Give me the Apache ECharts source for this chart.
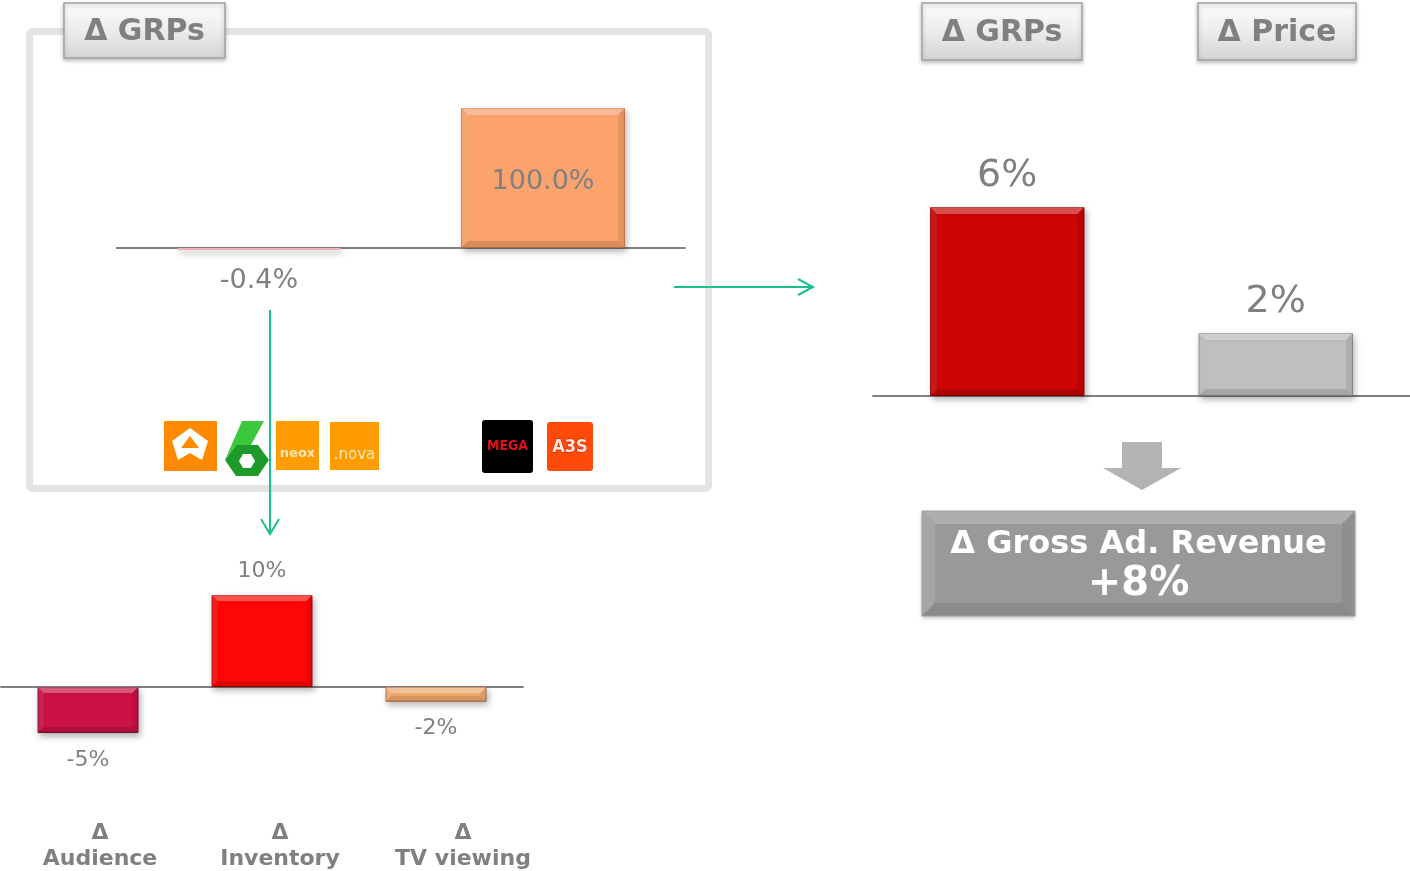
<!DOCTYPE html>
<html>
<head>
<meta charset="utf-8">
<script src="https://cdn.jsdelivr.net/npm/echarts@6/dist/echarts.min.js"></script>
<style>
html,body{margin:0;padding:0;background:#fff;}
#chart{width:1410px;height:871px;}
</style>
</head>
<body>
<div id="chart"></div>
<script>
// ---------- DATA ----------
const grpsCategories = ['Existing channels', 'New channels'];
const grpsValues = [-0.4, 100.0];
const grpsTitle = 'Δ GRPs';

const driverCategories = ['Δ\nAudience', 'Δ\nInventory', 'Δ\nTV viewing'];
const driverValues = [-5, 10, -1.6];

const summaryCategories = ['Δ GRPs', 'Δ Price'];
const summaryValues = [6, 2];

const revenueTitle = 'Δ Gross Ad. Revenue';
const revenueValue = '+8%';

// ---------- STYLE ----------
const FONT = 'DejaVu Sans';
const GREY = '#808080';
const GREEN = '#19c08e';
const grpsColors = [
  {fill: '#f7c4c4', border: '#f2b0b0'},
  {fill: '#fca26c', border: '#c9784c'}
];
const driverColors = [
  {fill: '#cc1144', border: '#7a0a28'},
  {fill: '#ff0606', border: '#b00000'},
  {fill: '#f6ad72', border: '#b8683a'}
];
const summaryColors = [
  {fill: '#cc0505', border: '#8a0000'},
  {fill: '#bfbfbf', border: '#8a8a8a'}
];

function items(values, colors) {
  return values.map((v, i) => ({
    value: v,
    itemStyle: {
      color: colors[i].fill,
      borderColor: colors[i].border,
      borderWidth: 1,
      shadowBlur: 6,
      shadowColor: 'rgba(0,0,0,0.28)',
      shadowOffsetX: 2,
      shadowOffsetY: 3
    }
  }));
}

function bevel(ratio, depth) {
  return function (params, api) {
    const idx = api.value(0), v = api.value(1);
    const p0 = api.coord([idx, 0]), p1 = api.coord([idx, v]);
    const w = api.size([1, 0])[0] * ratio;
    const x0 = p0[0] - w / 2, x1 = x0 + w;
    const yT = Math.min(p0[1], p1[1]), yB = Math.max(p0[1], p1[1]);
    const h = yB - yT;
    if (h < 4) return null;
    const d = Math.min(depth, h / 2.5, w / 4);
    return {
      type: 'group',
      silent: true,
      children: [
        {type: 'polygon', shape: {points: [[x0, yT], [x1, yT], [x1 - d, yT + d], [x0 + d, yT + d]]}, style: {fill: 'rgba(255,255,255,0.30)'}},
        {type: 'polygon', shape: {points: [[x0, yB], [x1, yB], [x1 - d, yB - d], [x0 + d, yB - d]]}, style: {fill: 'rgba(0,0,0,0.12)'}},
        {type: 'polygon', shape: {points: [[x0, yT], [x0 + d, yT + d], [x0 + d, yB - d], [x0, yB]]}, style: {fill: 'rgba(255,255,255,0.08)'}},
        {type: 'polygon', shape: {points: [[x1, yT], [x1 - d, yT + d], [x1 - d, yB - d], [x1, yB]]}, style: {fill: 'rgba(0,0,0,0.07)'}}
      ]
    };
  };
}

function xAx(gi, cats) {
  return {
    type: 'category', gridIndex: gi, data: cats,
    axisLine: {show: true, onZero: true, lineStyle: {color: GREY, width: 2}},
    axisTick: {show: false}, axisLabel: {show: false}, splitLine: {show: false}
  };
}
function yAx(gi, min, max) {
  return {type: 'value', gridIndex: gi, min: min, max: max, show: false, splitLine: {show: false}};
}

// header box with light bevel
function headerBox(x, y, w, h, text) {
  return {
    type: 'group', x: x, y: y, z: 20,
    children: [
      {type: 'rect', shape: {x: 0, y: 0, width: w, height: h},
        style: {fill: {type: 'linear', x: 0, y: 0, x2: 0, y2: 1, colorStops: [{offset: 0, color: '#fdfdfd'}, {offset: 0.5, color: '#ececec'}, {offset: 1, color: '#d4d4d4'}]},
          stroke: '#a3a3a3', lineWidth: 1.5, shadowBlur: 4, shadowColor: 'rgba(0,0,0,0.25)', shadowOffsetY: 2}},
      {type: 'text', style: {text: text, x: w / 2, y: h / 2 + 2, align: 'center', verticalAlign: 'middle',
        font: 'bold 30px "' + FONT + '"', fill: GREY}}
    ]
  };
}

function logos() {
  const g = [];
  // Antena 3
  g.push({type: 'rect', shape: {x: 164, y: 421, width: 53, height: 50}, style: {fill: '#ff8a00'}});
  g.push({type: 'polygon', shape: {points: [[190, 428], [208, 441], [202, 460], [190, 453], [178, 460], [172, 441]]}, style: {fill: '#ffffff'}});
  g.push({type: 'polygon', shape: {points: [[190, 436], [199, 448], [181, 448]]}, style: {fill: '#ff8a00'}});
  // laSexta
  g.push({type: 'polygon', shape: {points: [[236, 445], [258, 445], [269, 460], [258, 476], [236, 476], [225, 460]]}, style: {fill: '#1e9a2a'}});
  g.push({type: 'polygon', shape: {points: [[242, 421], [264, 421], [251, 445], [236, 445], [225, 460]]}, style: {fill: '#3cc83c'}});
  g.push({type: 'polygon', shape: {points: [[243, 454], [251, 454], [255, 461], [251, 468], [243, 468], [239, 461]]}, style: {fill: '#ffffff'}});
  // neox
  g.push({type: 'rect', shape: {x: 276, y: 421, width: 43, height: 49}, style: {fill: '#ff9c00'}});
  g.push({type: 'text', style: {text: 'neox', x: 297.5, y: 454, align: 'center', verticalAlign: 'middle', font: 'bold 13px "' + FONT + '"', fill: '#f8e6b8'}});
  // nova
  g.push({type: 'rect', shape: {x: 330, y: 422, width: 49, height: 48}, style: {fill: '#ff9c00'}});
  g.push({type: 'text', style: {text: '.nova', x: 354.5, y: 455, align: 'center', verticalAlign: 'middle', font: '15px "' + FONT + '"', fill: '#f8e6b8'}});
  // MEGA
  g.push({type: 'rect', shape: {x: 482, y: 420, width: 51, height: 53, r: 3}, style: {fill: '#000000'}});
  g.push({type: 'text', style: {text: 'MEGA', x: 507.5, y: 446, align: 'center', verticalAlign: 'middle', font: 'bold 14px "DejaVu Sans Condensed", "' + FONT + '"', fill: '#e0101a'}});
  // A3S
  g.push({type: 'rect', shape: {x: 547, y: 422, width: 46, height: 49, r: 3}, style: {fill: '#ff4a0a'}});
  g.push({type: 'text', style: {text: 'A3S', x: 570, y: 447, align: 'center', verticalAlign: 'middle', font: 'bold 18px "DejaVu Sans Condensed", "' + FONT + '"', fill: '#ffe8dc', stroke: '#c02000', lineWidth: 1}});
  return g;
}

const graphic = [];
// frame
graphic.push({type: 'rect', z: 0, shape: {x: 29.5, y: 31.5, width: 679, height: 457, r: 3}, style: {fill: 'none', stroke: '#e4e4e4', lineWidth: 7}});
graphic.push(headerBox(64, 3, 161, 55, grpsTitle));
graphic.push(headerBox(922, 3, 160, 57, summaryCategories[0]));
graphic.push(headerBox(1198, 3, 158, 57, summaryCategories[1]));
// green arrows
graphic.push({type: 'polyline', z: 5, shape: {points: [[674, 287], [813, 287]]}, style: {stroke: GREEN, lineWidth: 2}});
graphic.push({type: 'polyline', z: 5, shape: {points: [[798, 279], [813, 287], [798, 295]]}, style: {stroke: GREEN, lineWidth: 2, fill: 'none'}});
graphic.push({type: 'polyline', z: 5, shape: {points: [[270, 310], [270, 534]]}, style: {stroke: GREEN, lineWidth: 2}});
graphic.push({type: 'polyline', z: 5, shape: {points: [[261, 519], [270, 534], [279, 519]]}, style: {stroke: GREEN, lineWidth: 2, fill: 'none'}});
// logos
logos().forEach(l => { l.z = 10; graphic.push(l); });
// gray down arrow
graphic.push({type: 'polygon', z: 5, shape: {points: [[1122, 442], [1162, 442], [1162, 468], [1181, 468], [1142, 490], [1103, 468], [1122, 468]]}, style: {fill: '#b3b3b3'}});
// revenue box
(function () {
  const x = 922, y = 511, w = 433, h = 105, d = 13;
  graphic.push({type: 'group', z: 5, children: [
    {type: 'rect', shape: {x: x, y: y, width: w, height: h}, style: {fill: '#999999', shadowBlur: 4, shadowColor: 'rgba(0,0,0,0.25)', shadowOffsetY: 2}},
    {type: 'polygon', shape: {points: [[x, y], [x + w, y], [x + w - d, y + d], [x + d, y + d]]}, style: {fill: '#aeaeae'}},
    {type: 'polygon', shape: {points: [[x, y], [x + d, y + d], [x + d, y + h - d], [x, y + h]]}, style: {fill: '#a6a6a6'}},
    {type: 'polygon', shape: {points: [[x + w, y], [x + w - d, y + d], [x + w - d, y + h - d], [x + w, y + h]]}, style: {fill: '#8f8f8f'}},
    {type: 'polygon', shape: {points: [[x, y + h], [x + w, y + h], [x + w - d, y + h - d], [x + d, y + h - d]]}, style: {fill: '#8a8a8a'}},
    {type: 'rect', shape: {x: x, y: y, width: w, height: h}, style: {fill: 'none', stroke: '#a0a0a0', lineWidth: 1}},
    {type: 'text', style: {text: revenueTitle, x: x + w / 2, y: 545, align: 'center', verticalAlign: 'middle', font: 'bold 32px "' + FONT + '"', fill: '#ffffff'}},
    {type: 'text', style: {text: revenueValue, x: x + w / 2, y: 585, align: 'center', verticalAlign: 'middle', font: 'bold 40px "' + FONT + '"', fill: '#ffffff'}}
  ]});
})();
// bottom category names
const driverLabelX = [100, 280, 463];
driverCategories.forEach((c, i) => {
  graphic.push({type: 'text', z: 5, style: {text: c, x: driverLabelX[i], y: 846, align: 'center', verticalAlign: 'middle',
    font: 'bold 22px "' + FONT + '"', fill: GREY, lineHeight: 26}});
});

const chart = echarts.init(document.getElementById('chart'));
chart.setOption({
  animation: false,
  backgroundColor: '#ffffff',
  grid: [
    {left: 117, top: 108, width: 568, height: 168},
    {left: 1, top: 595, width: 522, height: 184},
    {left: 873, top: 207, width: 537, height: 189}
  ],
  xAxis: [xAx(0, grpsCategories), xAx(1, driverCategories), xAx(2, summaryCategories)],
  yAxis: [yAx(0, -20, 100), yAx(1, -10, 10), yAx(2, 0, 6)],
  series: [
    {type: 'bar', xAxisIndex: 0, yAxisIndex: 0, barWidth: '57.7%', barMinHeight: 2, z: 2,
      data: items(grpsValues, grpsColors),
      label: {show: true, fontFamily: FONT, fontSize: 27, color: GREY,
        position: 'inside',
        formatter: p => p.value.toFixed(1) + '%'}
    },
    {type: 'bar', xAxisIndex: 1, yAxisIndex: 1, barWidth: '58%', z: 2,
      data: items(driverValues, driverColors),
      label: {show: true, fontFamily: FONT, fontSize: 22, color: GREY, distance: 14,
        position: 'top', formatter: p => Math.round(p.value) + '%'}
    },
    {type: 'bar', xAxisIndex: 2, yAxisIndex: 2, barWidth: '57.5%', z: 2,
      data: items(summaryValues, summaryColors),
      label: {show: true, fontFamily: FONT, fontSize: 38, color: GREY, distance: 12,
        position: 'top', formatter: p => Math.round(p.value) + '%'}
    },
    {type: 'custom', xAxisIndex: 0, yAxisIndex: 0, z: 3, silent: true, renderItem: bevel(0.577, 7), data: grpsValues.map((v, i) => [i, v])},
    {type: 'custom', xAxisIndex: 1, yAxisIndex: 1, z: 3, silent: true, renderItem: bevel(0.58, 6), data: driverValues.map((v, i) => [i, v])},
    {type: 'custom', xAxisIndex: 2, yAxisIndex: 2, z: 3, silent: true, renderItem: bevel(0.575, 7), data: summaryValues.map((v, i) => [i, v])}
  ],
  graphic: graphic
});

// label placement per value sign
const s = chart.getOption().series;
s[0].data = s[0].data.map((d, i) => Object.assign({}, d, {label: grpsValues[i] < 0 ? {position: 'bottom', distance: 17} : {position: 'inside', offset: [0, 4]}}));
s[1].data = s[1].data.map((d, i) => Object.assign({}, d, {label: driverValues[i] < 0 ? {position: 'bottom', distance: 16} : {position: 'top', distance: 13}}));
chart.setOption({series: s});
</script>
</body>
</html>
